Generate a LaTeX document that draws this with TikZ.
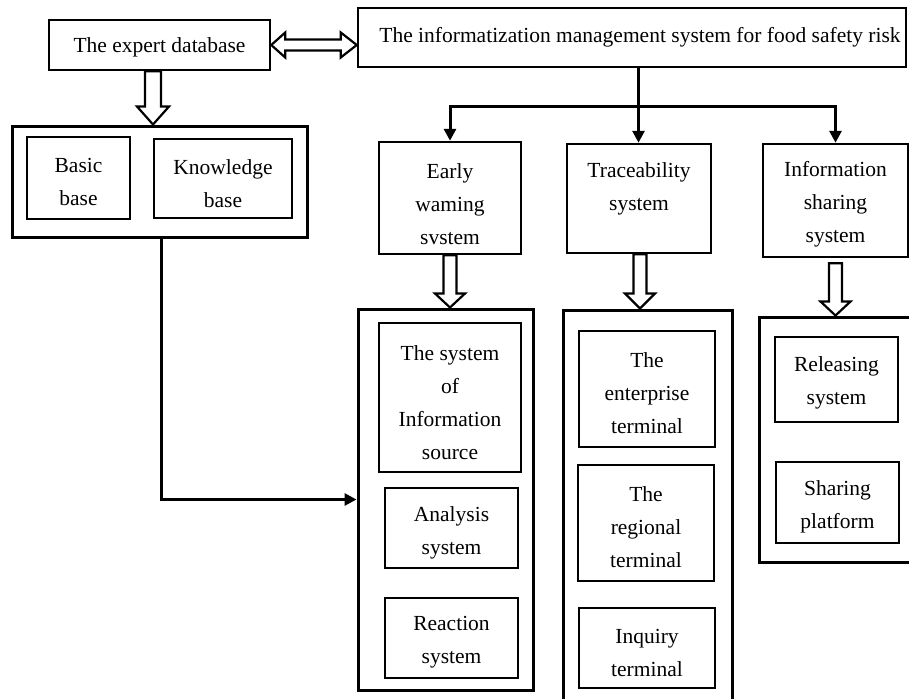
\documentclass[tikz,border=0pt]{standalone}
\usepackage{fontspec}
\setmainfont{Liberation Serif}
\usetikzlibrary{arrows.meta,calc}
\tikzset{
 box/.style={draw, line width=1.6pt, inner sep=0pt},
 topbox/.style={box, line width=2.5pt},
 cont/.style={draw, line width=3pt, inner sep=0pt},
 txt/.style={inner sep=0pt, align=center, font=\fontsize{21.5}{33}\selectfont},
 conn/.style={line width=3pt, -{Triangle[length=12pt,width=12pt]}},
 hollow/.style={draw, line width=2.2pt, fill=white, line join=miter},
}
\newcommand\hollowdown[5]{%
 \draw[hollow] let \p1=#1, \p2=#2 in
 (\x1-#3,\y1) -- (\x1-#3,\y2+#5) -- (\x1-#4,\y2+#5) -- (\x1,\y2) -- (\x1+#4,\y2+#5) -- (\x1+#3,\y2+#5) -- (\x1+#3,\y1) -- cycle;}
% box text: #1 box name, #2 downward shift (pt), #3 text
\newcommand\boxtext[3]{\node[txt] (#1t) at ([yshift=-#2pt]#1.center) {#3};}
\begin{document}
\begin{tikzpicture}[x=1pt,y=-1pt]
\useasboundingbox (0,0) rectangle (909,698);
\clip (0,0) rectangle (909,698);
% top boxes
\node[topbox, minimum width=221pt, minimum height=50pt] (expert) at (159.5,45) {};
\node[topbox, minimum width=548pt, minimum height=59pt] (main) at (632,37.5) {};
% left container
\node[cont, minimum width=295pt, minimum height=111pt] (lc) at (159.5,181.5) {};
\node[topbox, minimum width=103pt, minimum height=82pt] (basic) at (78.5,178) {};
\node[topbox, minimum width=138pt, minimum height=79pt] (know) at (223,178.5) {};
% second level
\node[topbox, minimum width=142pt, minimum height=112pt] (early) at (450,198) {};
\node[topbox, minimum width=144pt, minimum height=109pt] (trace) at (639,198.5) {};
\node[topbox, minimum width=145pt, minimum height=113pt] (share) at (835.5,200.5) {};
% containers
\node[cont, minimum width=175pt, minimum height=381pt] (ewc) at (445.5,499.5) {};
\node[cont, minimum width=169pt, minimum height=410pt] (trc) at (647.5,515) {};
\node[cont, minimum width=161pt, minimum height=245pt] (isc) at (839.5,439.5) {};
% inner boxes
\node[box, minimum width=142pt, minimum height=149pt] (src) at (450,397.5) {};
\node[box, minimum width=133pt, minimum height=80pt] (ana) at (451.5,528) {};
\node[box, minimum width=133pt, minimum height=80pt] (rea) at (451.5,638) {};
\node[box, minimum width=136pt, minimum height=116pt] (ent) at (647,389) {};
\node[box, minimum width=136pt, minimum height=116pt] (reg) at (646,523) {};
\node[box, minimum width=136pt, minimum height=80pt] (inq) at (647,648) {};
\node[box, minimum width=123pt, minimum height=85pt] (rel) at (836.5,379.5) {};
\node[box, minimum width=123pt, minimum height=81pt] (spl) at (837.5,502.5) {};
% texts
\boxtext{expert}{2}{The expert database}
\node[txt] (maint) at ([xshift=8pt]main.center) {The informatization management system for food safety risk};
\boxtext{basic}{4}{Basic\\base}
\boxtext{know}{5}{Knowledge\\base}
\boxtext{early}{6}{Early\\waming\\svstem}
\boxtext{trace}{-10}{Traceability\\system}
\boxtext{share}{4}{Information\\sharing\\system}
\boxtext{src}{5}{The system\\of\\Information\\source}
\boxtext{ana}{5}{Analysis\\system}
\boxtext{rea}{4}{Reaction\\system}
\boxtext{ent}{4}{The\\enterprise\\terminal}
\boxtext{reg}{4}{The\\regional\\terminal}
\boxtext{inq}{5}{Inquiry\\terminal}
\boxtext{rel}{3}{Releasing\\system}
\boxtext{spl}{4}{Sharing\\platform}
% double hollow arrow
\draw[hollow] let \p1=(expert.east), \p2=(main.west) in
 (\x1,\y1) -- (\x1+14pt,\y1+12.5pt) -- (\x1+14pt,\y1+5.5pt) -- (\x2-16pt,\y1+5.5pt) -- (\x2-16pt,\y1+12.5pt) -- (\x2,\y1)
 -- (\x2-16pt,\y1-12.5pt) -- (\x2-16pt,\y1-5.5pt) -- (\x1+14pt,\y1-5.5pt) -- (\x1+14pt,\y1-12.5pt) -- cycle;
% hollow down arrows
\hollowdown{([xshift=-6.5pt]expert.south)}{(lc.north)}{8pt}{16pt}{18pt}
\hollowdown{(early.south)}{(ewc.north)}{6.5pt}{15pt}{14pt}
\hollowdown{([xshift=1pt]trace.south)}{(trc.north)}{6.5pt}{15pt}{15pt}
\hollowdown{([yshift=-5pt]share.south)}{(isc.north)}{6.5pt}{15pt}{14pt}
% tree connectors
\coordinate (hub) at (638.5,107);
\draw[line width=3pt] (main.south -| hub) -- (hub);
\draw[conn] (hub) -| (early.north);
\draw[conn] (hub) -- (hub |- trace.north);
\draw[conn] (hub) -| (share.north);
% expert base to early warning
\draw[conn] ([xshift=1.5pt]lc.south) |- (ewc.west);
\end{tikzpicture}
\end{document}
